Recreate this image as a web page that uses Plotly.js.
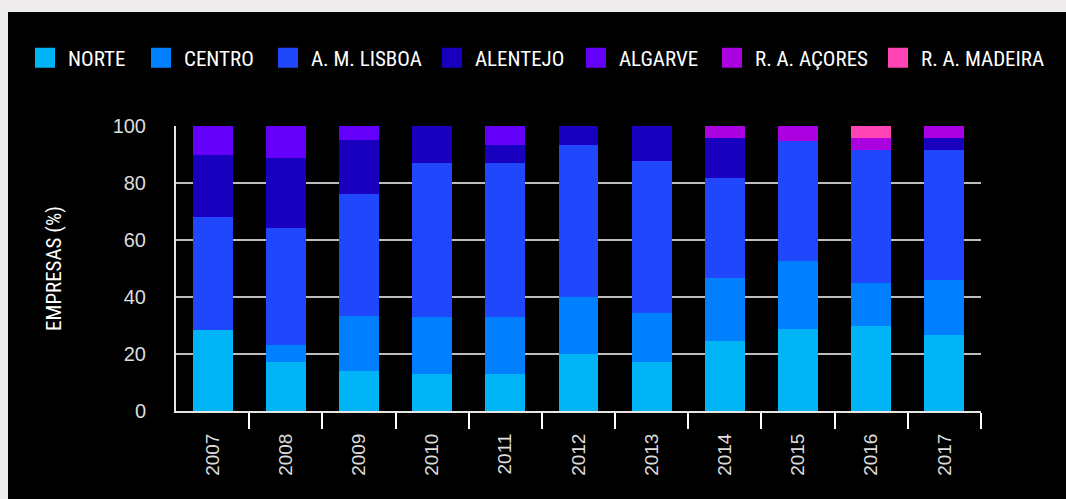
<!DOCTYPE html>
<html><head><meta charset="utf-8">
<script src="https://cdn.plot.ly/plotly-3.0.1.min.js"></script>
<style>
html,body{margin:0;padding:0;background:#eeecec;width:1066px;height:499px;overflow:hidden}
#chart{position:absolute;left:8px;top:12px;width:1058px;height:487px;background:#000}
</style></head><body><div id="chart"></div><script>
const years = ['2007','2008','2009','2010','2011','2012','2013','2014','2015','2016','2017'];
const seriesNames = ['NORTE','CENTRO','A. M. LISBOA','ALENTEJO','ALGARVE','R. A. AÇORES','R. A. MADEIRA'];
const seriesColors = ['#00b4f6','#0080ff','#2047fb','#1900be','#6400fa','#ab00e0','#ff46b4'];
const norte    = [28.4, 17.2, 14.0, 13.0, 13.0, 20.0, 17.2, 24.5, 28.7, 29.8, 26.6];
const centro   = [ 0.0,  5.9, 19.3, 19.9, 19.9, 20.0, 17.1, 22.1, 23.9, 15.1, 19.3];
const lisboa   = [39.6, 41.0, 42.8, 54.0, 54.0, 53.2, 53.3, 35.1, 42.0, 46.6, 45.6];
const alentejo = [21.7, 24.6, 18.9, 13.1,  6.3,  6.8, 12.4, 14.0,  0.0,  0.0,  4.2];
const algarve  = [10.3, 11.3,  5.0,  0.0,  6.8,  0.0,  0.0,  0.0,  0.0,  0.0,  0.0];
const acores   = [ 0.0,  0.0,  0.0,  0.0,  0.0,  0.0,  0.0,  4.3,  5.4,  4.2,  4.3];
const madeira  = [ 0.0,  0.0,  0.0,  0.0,  0.0,  0.0,  0.0,  0.0,  0.0,  4.3,  0.0];
const seriesValues = [norte, centro, lisboa, alentejo, algarve, acores, madeira];
const yTicks = [0, 20, 40, 60, 80, 100];
const yTitle = 'EMPRESAS (%)';

// layout: left edge (px, page) of each legend swatch
const legendSwatchLeft = [35, 151, 278, 442, 586, 722, 888];
const PLOT_L = 168, PLOT_W = 805, PAGE_OFFSET = 8;

const xIdx = years.map((_, i) => i);
const boundaries = years.map((_, i) => i + 0.5);
const condensed = '"Roboto Condensed", "Liberation Sans Narrow", "DejaVu Sans Condensed", "Open Sans Condensed", Roboto, sans-serif';
const legendIds = seriesNames.map((_, k) => k === 0 ? 'legend' : 'legend' + (k + 1));

const traces = seriesNames.map((name, k) => ({
  type: 'bar', name: name, x: xIdx, y: seriesValues[k],
  marker: {color: seriesColors[k], line: {width: 0}},
  width: 0.546, hoverinfo: 'skip',
  legend: legendIds[k]
}));

const layout = {
  width: 1058, height: 487,
  paper_bgcolor: '#000', plot_bgcolor: '#000',
  barmode: 'stack',
  margin: {l: PLOT_L, r: 85, t: 114, b: 88},
  showlegend: true,
  xaxis: {
    range: [-0.5, 10.5], tickmode: 'array', tickvals: xIdx, ticktext: years,
    tickangle: -90, ticks: '', ticklabelstandoff: 13,
    tickfont: {family: '"Liberation Sans", Arial, sans-serif', size: 19, color: '#dddddd'},
    showline: true, linecolor: '#e6e6e6', linewidth: 2,
    showgrid: false, zeroline: false, fixedrange: true,
    minor: {tickmode: 'array', tickvals: boundaries, ticks: 'outside', ticklen: 16, tickwidth: 2, tickcolor: '#ffffff', showgrid: false}
  },
  yaxis: {
    range: [0, 100], tickmode: 'array', tickvals: yTicks, ticks: '',
    ticklabelstandoff: 24,
    tickfont: {family: '"Liberation Sans", Arial, sans-serif', size: 20, color: '#dddddd'},
    showline: true, linecolor: '#e6e6e6', linewidth: 2,
    showgrid: true, gridcolor: '#bdbdbd', gridwidth: 2, zeroline: false, fixedrange: true,
    title: {text: yTitle, standoff: 45, font: {family: condensed, size: 21, color: '#ffffff', weight: 400}}
  }
};
legendIds.forEach((id, k) => {
  layout[id] = {
    orientation: 'h', xanchor: 'left', yanchor: 'middle', y: 1.2386,
    x: (legendSwatchLeft[k] - PAGE_OFFSET - 7 - PLOT_L) / PLOT_W,
    font: {family: condensed, size: 21, color: '#ffffff', weight: 400},
    bgcolor: 'rgba(0,0,0,0)', borderwidth: 0
  };
});

Plotly.newPlot('chart', traces, layout, {staticPlot: true, displayModeBar: false}).then(gd => {
  gd.querySelectorAll('.legendpoints path').forEach(p => p.setAttribute('d', 'M7,10H-13V-10H7Z'));
});
</script></body></html>
